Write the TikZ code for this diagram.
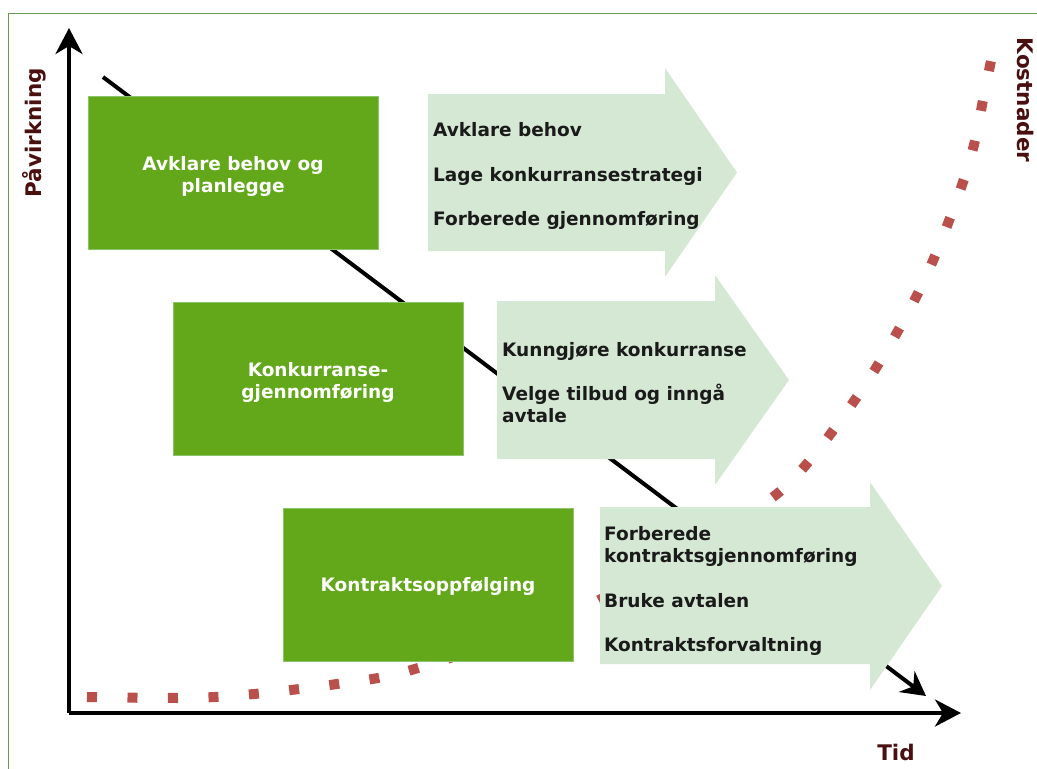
\documentclass[tikz,border=0pt]{standalone}
\usepackage{fontspec}
\setmainfont{DejaVu Sans}
\usetikzlibrary{arrows.meta}
\definecolor{boxgreen}{HTML}{62A81A}
\definecolor{boxedge}{HTML}{8CC46A}
\definecolor{lightgreen}{HTML}{D5E8D4}
\definecolor{costred}{HTML}{B9504C}
\definecolor{axislabel}{HTML}{4A1010}
\definecolor{framegreen}{HTML}{6A9A50}
\definecolor{textdark}{HTML}{1A1A1A}
\begin{document}
\begin{tikzpicture}[x=1pt,y=-1pt,
  phasebox/.style={draw=boxedge, line width=1pt, fill=boxgreen, text=white,
    font=\bfseries\fontsize{18.5}{22}\selectfont, align=center,
    minimum width=290pt, minimum height=153pt, inner sep=0pt},
  bigarrow/.style={fill=lightgreen},
  steptext/.style={anchor=base west, text=textdark, inner sep=0pt,
    font=\bfseries\fontsize{18.5}{21.5}\selectfont, align=left},
  axisline/.style={line width=4pt, -{Stealth[length=26pt,width=27pt,inset=8pt]}},
  axistext/.style={text=axislabel, font=\bfseries\fontsize{21.5}{24}\selectfont, inner sep=0pt},
  costcurve/.style={costred, line width=10pt, dash pattern=on 10pt off 30.5pt}
]
\useasboundingbox (0,0) rectangle (1037,769);
% frame
\draw[framegreen, line width=1pt] (8,780) -- (8,13) -- (1050,13);

% cost curve
\draw[costcurve] plot[smooth, tension=0.55] coordinates
  {(87,697) (215,697) (337,684) (418,668) (575,612) (700,540) (785,487) (861,391) (922,285) (967,170) (985,90) (995,40)};

% influence line
\coordinate (dstart) at (103,77);
\coordinate (dend) at (926,696);
\draw[line width=4pt, -{Stealth[length=24pt,width=26pt,inset=8pt]}] (dstart) -- (dend);

% axes
\coordinate (origin) at (69,713);
\coordinate (ytip) at (69,28);
\coordinate (xtip) at (961,713);
\draw[axisline] (origin) -- (ytip);
\draw[axisline] (origin) -- (xtip);

% phase boxes
\node[phasebox] (b1) at (233,173) {};
\node[phasebox] (b2) at (318,379) {};
\node[phasebox] (b3) at (428,585) {};
\node[text=white, font=\bfseries\fontsize{18.5}{22}\selectfont, align=center, inner sep=0pt] (b1t) at (233,176) {Avklare behov og\\planlegge};
\node[text=white, font=\bfseries\fontsize{18.5}{22}\selectfont, align=center, inner sep=0pt] (b2t) at (318,382) {Konkurranse-\\gjennomføring};
\node[text=white, font=\bfseries\fontsize{18.5}{22}\selectfont, align=center, inner sep=0pt] (b3t) at (428,586) {Kontraktsoppfølging};

% light arrows
\fill[bigarrow] (428,94) -- (665,94) -- (665,68) -- (737,172.5) -- (665,277) -- (665,251) -- (428,251) -- cycle;
\fill[bigarrow] (497,301) -- (715,301) -- (715,275) -- (789,380) -- (715,485) -- (715,459) -- (497,459) -- cycle;
\fill[bigarrow] (600,507) -- (870,507) -- (870,482) -- (942,586) -- (870,690) -- (870,664) -- (600,664) -- cycle;

% texts in arrows
\node[steptext] (t11) at (433,136) {Avklare behov};
\node[steptext] (t12) at (433,181) {Lage konkurransestrategi};
\node[steptext] (t13) at (433,225) {Forberede gjennomføring};

\node[steptext] (t21) at (502,356) {Kunngjøre konkurranse};
\node[steptext] (t22) at (502,422) {Velge tilbud og inngå\\avtale};

\node[steptext] (t31) at (604,562) {Forberede\\kontraktsgjennomføring};
\node[steptext] (t32) at (604,607) {Bruke avtalen};
\node[steptext] (t33) at (604,651) {Kontraktsforvaltning};

% axis labels
\node[axistext, rotate=90] (ylab) at (34,133) {Påvirkning};
\node[axistext, rotate=-90] (clab) at (1026,100) {Kostnader};
\node[axistext] (xlab) at (896,752) {Tid};
\end{tikzpicture}
\end{document}
